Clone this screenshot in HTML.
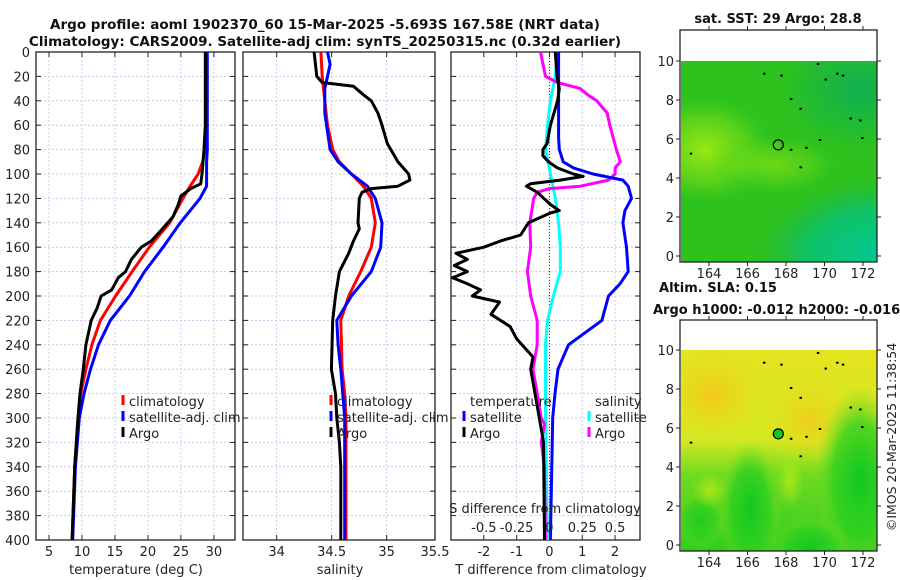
<!DOCTYPE html>
<html><head><meta charset="utf-8"><style>
html,body{margin:0;padding:0;background:#fff;}
svg{display:block;font-family:"DejaVu Sans","Liberation Sans",sans-serif;}
</style></head><body>
<svg id="fig" width="900" height="580" viewBox="0 0 900 580" xmlns="http://www.w3.org/2000/svg">
<defs>
<radialGradient id="m1lime" cx="0.5" cy="0.5" r="0.5"><stop offset="0" stop-color="#9be812"/><stop offset="0.6" stop-color="#6ad818" stop-opacity="0.7"/><stop offset="1" stop-color="#3ccc1c" stop-opacity="0"/></radialGradient>
<radialGradient id="m1teal" cx="0.5" cy="0.5" r="0.5"><stop offset="0" stop-color="#00c895"/><stop offset="0.6" stop-color="#08c27a" stop-opacity="0.8"/><stop offset="1" stop-color="#10b860" stop-opacity="0"/></radialGradient>
<radialGradient id="m1tr" cx="0.5" cy="0.5" r="0.5"><stop offset="0" stop-color="#0fb050"/><stop offset="1" stop-color="#0fb050" stop-opacity="0"/></radialGradient>
<radialGradient id="m2or" cx="0.5" cy="0.5" r="0.5"><stop offset="0" stop-color="#f2c818"/><stop offset="1" stop-color="#e6e020" stop-opacity="0"/></radialGradient>
<radialGradient id="m2gr" cx="0.5" cy="0.5" r="0.5"><stop offset="0" stop-color="#10c820"/><stop offset="0.6" stop-color="#30d020" stop-opacity="0.8"/><stop offset="1" stop-color="#80e020" stop-opacity="0"/></radialGradient>
<radialGradient id="m2li" cx="0.5" cy="0.5" r="0.5"><stop offset="0" stop-color="#a8e818"/><stop offset="1" stop-color="#a8e818" stop-opacity="0"/></radialGradient>
<linearGradient id="m2base" x1="0" y1="0" x2="0" y2="1"><stop offset="0" stop-color="#e4e420"/><stop offset="0.45" stop-color="#d4e822"/><stop offset="0.62" stop-color="#70da20"/><stop offset="1" stop-color="#30cc20"/></linearGradient>
<clipPath id="c1"><rect x="36" y="52" width="199" height="488"/></clipPath>
<clipPath id="c2"><rect x="243" y="52" width="192" height="488"/></clipPath>
<clipPath id="c3"><rect x="451" y="52" width="189" height="488"/></clipPath>
<clipPath id="cm1"><rect x="681" y="61" width="196" height="201"/></clipPath>
<clipPath id="cm2"><rect x="681" y="350" width="196" height="201"/></clipPath>
</defs>
<g id="root"></g>
</svg>
<script>
// ---------- data ----------
const depthsT = [0,50,80,90,100,110,120,140,160,180,200,220,240,260,280,300,340,400];
const tempClim = [28.8,28.8,28.7,28.3,27.6,26.4,25.3,23.3,20.2,17.6,15.1,12.8,11.5,10.6,9.8,9.4,8.9,8.5];
const depthsTS = [0,60,80,90,100,110,120,140,160,180,200,220,240,260,280,300,340,400];
const tempSat = [29.0,29.0,29.0,28.9,28.9,28.9,27.9,24.9,22.3,19.5,17.2,14.3,12.5,11.3,10.3,9.6,9.0,8.6];
const depthsArgo = [0,60,80,100,108,112,118,125,135,145,155,160,170,180,185,195,200,210,220,240,260,280,300,340,400];
const tempArgo = [28.7,28.7,28.5,28.2,28.0,26.5,25.0,24.6,23.8,22.2,20.5,19.0,17.5,16.6,15.5,14.5,12.9,12.3,11.4,10.6,10.2,9.7,9.4,8.9,8.5];

const depthsS = [0,20,40,60,80,90,100,110,120,140,160,180,200,220,260,280,300,400];
const salClim = [34.402,34.414,34.438,34.462,34.510,34.571,34.680,34.788,34.861,34.897,34.861,34.764,34.655,34.583,34.595,34.619,34.631,34.631];
const depthsSS = [0,10,20,30,50,80,90,100,110,120,140,160,180,200,220,240,260,300,400];
const salSat = [34.462,34.486,34.462,34.438,34.438,34.486,34.559,34.680,34.825,34.897,34.958,34.946,34.861,34.680,34.547,34.559,34.583,34.619,34.619];
const depthsSA = [0,20,25,28,35,40,50,60,75,90,100,105,110,112,115,120,140,145,155,165,180,200,220,260,280,300,320,340,400];
const salArgo = [34.341,34.365,34.414,34.698,34.788,34.861,34.921,34.958,35.006,35.103,35.200,35.212,35.103,34.861,34.776,34.752,34.740,34.752,34.698,34.655,34.571,34.535,34.510,34.498,34.535,34.547,34.571,34.583,34.583];

const depthsD = [0,20,30,40,60,75,80,85,90,95,100,102,105,108,110,115,125,130,132,140,150,155,160,165,170,175,180,185,190,195,200,205,215,225,235,250,260,280,300,320,400];
const tDiffArgo = [0.18,0.23,0.3,0.25,0.03,-0.07,-0.2,-0.2,-0.03,0.24,0.73,1.03,0.33,-0.58,-0.7,-0.37,0.03,0.3,0.03,-0.64,-0.88,-1.5,-2.0,-2.85,-2.5,-2.9,-2.5,-2.95,-2.5,-2.1,-2.35,-1.52,-1.78,-1.2,-1.0,-0.5,-0.57,-0.44,-0.31,-0.18,-0.15];
const depthsDS = [0,70,80,90,95,100,105,110,120,130,140,160,180,190,200,220,240,260,280,300,400];
const tDiffSat = [0.28,0.28,0.3,0.42,0.73,1.33,2.24,2.4,2.5,2.3,2.24,2.35,2.4,2.15,1.8,1.6,0.58,0.26,0.17,0.1,0.03];
const depthsSD = [0,20,40,60,80,100,120,140,160,180,200,220,240,300,400];
const sDiffSat = [0.06,0.045,0.008,-0.015,-0.03,0.008,0.045,0.07,0.083,0.083,0.03,-0.015,-0.03,-0.03,-0.015];
const depthsSDA = [0,20,25,30,35,40,50,60,70,80,90,95,100,105,110,112,115,120,140,160,180,200,220,240,260,280,300,305,320,340,400];
const sDiffArgo = [-0.068,-0.03,0.06,0.235,0.29,0.36,0.44,0.46,0.485,0.51,0.54,0.5,0.5,0.45,0.235,0.0,-0.093,-0.12,-0.15,-0.143,-0.168,-0.143,-0.093,-0.093,-0.125,-0.093,-0.063,-0.038,-0.063,-0.038,-0.03];

const yTicks = [0,20,40,60,80,100,120,140,160,180,200,220,240,260,280,300,320,340,360,380,400];
const tTicks = [5,10,15,20,25,30];
const sTicks = [34,34.5,35];
const dTicks = [-2,-1,0,1,2];
const sdTicks = [-0.5,-0.25,0,0.25,0.5];
const sdTickLabels = ["-0.5","-0.25","0","0.25","0.5"];
const latTicks = [0,2,4,6,8,10];
const lonTicks = [164,166,168,170,172];
const argoLon = [167.6];
const argoLat = [5.7];

// ---------- helpers ----------
const NS = "http://www.w3.org/2000/svg";
const root = document.getElementById("root");
function mk(tag, attrs, parent, text){
  const e = document.createElementNS(NS, tag);
  for (const k in attrs) e.setAttribute(k, attrs[k]);
  if (text !== undefined) e.textContent = text;
  (parent || root).appendChild(e);
  return e;
}
const Y0 = 52, Y1 = 540;
function yD(d){ return Y0 + d/400*(Y1-Y0); }

function panel(name, x0, x1, xmin, xmax, xt, clip, fmt){
  const g = mk("g", {});
  
  
  const sx = v => x0 + (v - xmin)/(xmax - xmin)*(x1 - x0);
  yTicks.forEach(t => {
    const l = mk("line", {x1:x0, x2:x1, y1:yD(t), y2:yD(t), stroke:"#b8c0e8", "stroke-width":0.8, "stroke-dasharray":"2,2"}, g);
    
    
  });
  xt.forEach(t => {
    const l = mk("line", {x1:sx(t), x2:sx(t), y1:Y0, y2:Y1, stroke:"#c8c4e0", "stroke-width":0.8, "stroke-dasharray":"2,2"}, g);
    
    
  });
  yTicks.forEach(t => {
    mk("line", {x1:x0, x2:x0+5, y1:yD(t), y2:yD(t), stroke:"#222"}, g);
    mk("line", {x1:x1-5, x2:x1, y1:yD(t), y2:yD(t), stroke:"#222"}, g);
  });
  xt.forEach(t => {
    mk("line", {x1:sx(t), x2:sx(t), y1:Y1, y2:Y1-5, stroke:"#222"}, g);
    mk("line", {x1:sx(t), x2:sx(t), y1:Y0, y2:Y0+5, stroke:"#222"}, g);
    const tl = mk("text", {x:sx(t), y:556, "font-size":13, "text-anchor":"middle", fill:"#222"}, g, fmt ? fmt(t) : String(t));
    
    
  });
  const fr = mk("rect", {x:x0, y:Y0, width:x1-x0, height:Y1-Y0, fill:"none", stroke:"#222", "stroke-width":1.3}, g);
  
  
  return {g, sx};
}
function series(p, xs, ds, color, name, clip, scale){
  const pts = xs.map((v,i) => p.sx(v*(scale||1)).toFixed(1) + "," + yD(ds[i]).toFixed(1)).join(" ");
  const pl = mk("polyline", {points:pts, fill:"none", stroke:color, "stroke-width":3, "stroke-linejoin":"round", "clip-path":"url(#"+clip+")"}, p.g);
  
  
}
function legendEntry(g, x, y, color, label, name){
  mk("line", {x1:x, x2:x, y1:y-11, y2:y-1, stroke:color, "stroke-width":3}, g);
  const t = mk("text", {x:x+6, y:y, "font-size":13, fill:"#222"}, g, label);
  
  
}

let t1 = mk("text", {x:325, y:29, "font-size":13.5, "font-weight":"bold", "text-anchor":"middle", fill:"#111"}, root, "Argo profile: aoml 1902370_60 15-Mar-2025 -5.693S 167.58E (NRT data)");


let t2 = mk("text", {x:325, y:46, "font-size":13.5, "font-weight":"bold", "text-anchor":"middle", fill:"#111"}, root, "Climatology: CARS2009. Satellite-adj clim: synTS_20250315.nc (0.32d earlier)");



yTicks.forEach(t => {
  const l = mk("text", {x:30, y:yD(t)+5, "font-size":13, "text-anchor":"end", fill:"#222"}, root, String(t));
  
  
});

// panel 1: temperature
const p1 = panel("temperature", 36, 235, 3.03, 33.2, tTicks, "c1");
series(p1, tempClim, depthsT, "#ff0000", "temp-climatology-line", "c1");
series(p1, tempSat, depthsTS, "#0000ff", "temp-satellite-line", "c1");
series(p1, tempArgo, depthsArgo, "#000000", "temp-argo-line", "c1");
legendEntry(p1.g, 123, 406, "#ff0000", "climatology", "legend-climatology");
legendEntry(p1.g, 123, 422, "#0000ff", "satellite-adj. clim", "legend-satellite-adj");
legendEntry(p1.g, 123, 438, "#000000", "Argo", "legend-argo");
let xl1 = mk("text", {x:136, y:574, "font-size":13, "text-anchor":"middle", fill:"#222"}, root, "temperature (deg C)");



// panel 2: salinity
const p2 = panel("salinity", 243, 435, 33.694, 35.44, sTicks, "c2");
let s355 = mk("text", {x:435, y:556, "font-size":13, "text-anchor":"middle", fill:"#222"}, root, "35.5");


series(p2, salClim, depthsS, "#ff0000", "sal-climatology-line", "c2");
series(p2, salSat, depthsSS, "#0000ff", "sal-satellite-line", "c2");
series(p2, salArgo, depthsSA, "#000000", "sal-argo-line", "c2");
legendEntry(p2.g, 331, 406, "#ff0000", "climatology", "legend-climatology");
legendEntry(p2.g, 331, 422, "#0000ff", "satellite-adj. clim", "legend-satellite-adj");
legendEntry(p2.g, 331, 438, "#000000", "Argo", "legend-argo");
let xl2 = mk("text", {x:340, y:574, "font-size":13, "text-anchor":"middle", fill:"#222"}, root, "salinity");



// panel 3: differences
const p3 = panel("difference", 451, 640, -3.0, 2.76, dTicks, "c3");
const zl = mk("line", {x1:p3.sx(0), x2:p3.sx(0), y1:Y0, y2:Y1, stroke:"#333", "stroke-width":1, "stroke-dasharray":"1,2"}, p3.g);


series(p3, sDiffSat, depthsSD, "#00ffff", "sdiff-satellite-line", "c3", 4);
series(p3, sDiffArgo, depthsSDA, "#ff00ff", "sdiff-argo-line", "c3", 4);
series(p3, tDiffSat, depthsDS, "#0000ff", "tdiff-satellite-line", "c3");
series(p3, tDiffArgo, depthsD, "#000000", "tdiff-argo-line", "c3");
let lt = mk("text", {x:470, y:406, "font-size":13, fill:"#222"}, p3.g, "temperature");


let ls = mk("text", {x:595, y:406, "font-size":13, fill:"#222"}, p3.g, "salinity");


legendEntry(p3.g, 464, 422, "#0000ff", "satellite", "legend-t-satellite");
legendEntry(p3.g, 464, 438, "#000000", "Argo", "legend-t-argo");
legendEntry(p3.g, 589, 422, "#00ffff", "satellite", "legend-s-satellite");
legendEntry(p3.g, 589, 438, "#ff00ff", "Argo", "legend-s-argo");
let sdt = mk("text", {x:545, y:513, "font-size":13, "text-anchor":"middle", fill:"#222"}, p3.g, "S difference from climatology");


sdTicks.forEach((v,i) => {
  const l = mk("text", {x:p3.sx(v*4), y:532, "font-size":13, "text-anchor":"middle", fill:"#222"}, p3.g, sdTickLabels[i]);
  
  
});
let xl3 = mk("text", {x:551, y:574, "font-size":13, "text-anchor":"middle", fill:"#222"}, root, "T difference from climatology");



// ---------- maps ----------
const MX0 = 680, MX1 = 877;
const mLon = lon => 709 + (lon - 164)*19.25;
function mapPanel(name, top, bottom, latBase, clip, fillFn, markerFill, titles){
  const g = mk("g", {});
  
  
  const mLat = l => latBase - l*19.5;
  titles.forEach(tt => {
    const e = mk("text", {x:tt.x, y:tt.y, "font-size":13, "font-weight":"bold", "text-anchor":tt.a || "middle", fill:"#111"}, g, tt.s);
    
    
  });
  const img = mk("g", {"clip-path":"url(#"+clip+")"}, g);
  
  
  fillFn(img, mLat);
  [[170.0,9.1],[170.6,9.4],[170.9,9.3],[169.6,9.9],[166.8,9.4],[167.7,9.3],[168.2,8.1],[168.7,7.6],[171.3,7.1],[171.8,7.0],[171.9,6.1],[169.7,6.0],[168.2,5.5],[169.0,5.6],[168.7,4.6],[163.0,5.3]].forEach(p=>{
    mk("rect", {x:mLon(p[0]), y:mLat(p[1]), width:2.5, height:2, fill:"#000"}, img);
  });
  const m = mk("circle", {cx:mLon(argoLon[0]), cy:mLat(argoLat[0]), r:5, fill:markerFill, stroke:"#000", "stroke-width":1.2}, g);
  
  
  const fr = mk("rect", {x:MX0, y:top, width:MX1-MX0, height:bottom-top, fill:"none", stroke:"#222", "stroke-width":1.3}, g);
  
  
  latTicks.forEach(t => {
    mk("line", {x1:MX0, x2:MX0-4, y1:mLat(t), y2:mLat(t), stroke:"#222"}, g);
    mk("line", {x1:MX1, x2:MX1+4, y1:mLat(t), y2:mLat(t), stroke:"#222"}, g);
    const l = mk("text", {x:MX0-6, y:mLat(t)+5, "font-size":13, "text-anchor":"end", fill:"#222"}, g, String(t));
    
    
  });
  lonTicks.forEach(t => {
    mk("line", {x1:mLon(t), x2:mLon(t), y1:bottom, y2:bottom+4, stroke:"#222"}, g);
    mk("line", {x1:mLon(t), x2:mLon(t), y1:top, y2:top-4, stroke:"#222"}, g);
    const l = mk("text", {x:mLon(t), y:bottom+16, "font-size":13, "text-anchor":"middle", fill:"#222"}, g, String(t));
    
    
  });
}
mapPanel("sst-map", 30, 262, 256, "cm1", (img, mLat) => {
  mk("rect", {x:681, y:61, width:196, height:201, fill:"#2ec21e"}, img);
  mk("ellipse", {cx:860, cy:90, rx:80, ry:60, fill:"url(#m1tr)"}, img);
  mk("ellipse", {cx:705, cy:150, rx:70, ry:55, fill:"url(#m1lime)"}, img);
  mk("ellipse", {cx:775, cy:165, rx:65, ry:30, fill:"url(#m1lime)", opacity:0.6}, img);
  mk("ellipse", {cx:880, cy:255, rx:120, ry:75, fill:"url(#m1teal)"}, img);
}, "none", [{x:778, y:23, s:"sat. SST: 29 Argo: 28.8", n:"sst-map-title"}]);
mapPanel("sla-map", 320, 551, 545, "cm2", (img, mLat) => {
  mk("rect", {x:681, y:350, width:196, height:201, fill:"url(#m2base)"}, img);
  mk("ellipse", {cx:712, cy:395, rx:55, ry:50, fill:"url(#m2or)"}, img);
  mk("ellipse", {cx:810, cy:420, rx:50, ry:45, fill:"url(#m2or)", opacity:0.8}, img);
  mk("ellipse", {cx:750, cy:510, rx:32, ry:70, fill:"url(#m2gr)"}, img);
  mk("ellipse", {cx:860, cy:480, rx:45, ry:95, fill:"url(#m2gr)"}, img);
  mk("ellipse", {cx:810, cy:550, rx:40, ry:35, fill:"url(#m2gr)"}, img);
  mk("ellipse", {cx:700, cy:520, rx:25, ry:30, fill:"url(#m2gr)", opacity:0.7}, img);
  mk("ellipse", {cx:710, cy:490, rx:18, ry:18, fill:"url(#m2li)"}, img);
  mk("ellipse", {cx:790, cy:480, rx:14, ry:28, fill:"url(#m2li)"}, img);
}, "#18c820", [{x:718, y:292, s:"Altim. SLA: 0.15", n:"sla-map-title", a:"middle"},{x:653, y:314, s:"Argo h1000: -0.012 h2000: -0.016", n:"sla-map-subtitle", a:"start"}]);

let cr = mk("text", {x:0, y:0, "font-size":12.5, "text-anchor":"middle", fill:"#222", transform:"translate(896,437) rotate(-90)"}, root, "©IMOS 20-Mar-2025 11:38:54");


</script>
</body></html>
